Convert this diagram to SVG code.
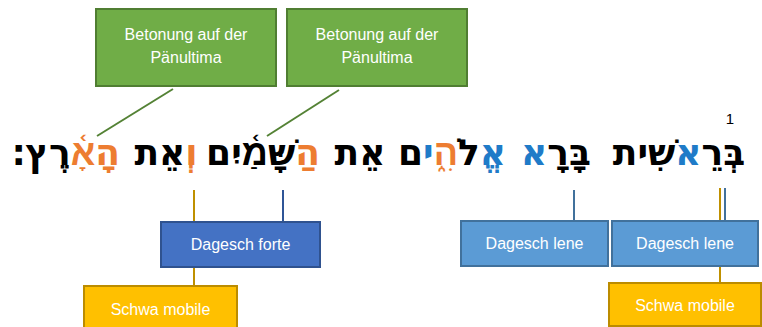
<svg xmlns="http://www.w3.org/2000/svg" width="762" height="327" viewBox="0 0 762 327">
<style>
.lbl{font-family:"Liberation Sans",Arial,sans-serif;font-size:16px;fill:#ffffff;text-anchor:middle}
.heb{font-family:"DejaVu Sans",sans-serif;font-weight:bold;font-size:36px;fill:#000000;text-anchor:middle}
.bl{fill:#1F7BC8}
.or{fill:#ED7D31}
.green{fill:#70AD47;stroke:#507E32;stroke-width:2}
.dblue{fill:#4472C4;stroke:#2F528F;stroke-width:2}
.lblue{fill:#5B9BD5;stroke:#41719C;stroke-width:2}
.gold{fill:#FFC000;stroke:#BC8C00;stroke-width:2}
</style>
<rect width="762" height="327" fill="#ffffff"/>
<g id="connectors" fill="none" stroke-width="2">
<line x1="173" y1="89" x2="97" y2="136" stroke="#548235"/>
<line x1="339" y1="90" x2="267" y2="136" stroke="#548235"/>
<line x1="194" y1="190" x2="194" y2="286" stroke="#BF9000"/>
<line x1="283" y1="190" x2="283" y2="222" stroke="#2F5597"/>
<line x1="574" y1="190" x2="574" y2="221" stroke="#41719C"/>
<line x1="720" y1="188" x2="720" y2="283" stroke="#BF9000"/>
<line x1="725" y1="188" x2="725" y2="221" stroke="#41719C"/>
</g>
<g id="verse">
<text class="heb" x="679" y="165">בְּר<tspan class="bl">ֵא</tspan>שׁ<tspan class="bl">ִ</tspan>ית</text>
<text class="heb" x="556" y="165">בָּר<tspan class="bl">ָא</tspan></text>
<text class="heb" x="452" y="165"><tspan class="bl">א</tspan>ֱלֹ<tspan class="or">ה</tspan><tspan class="bl">ִ</tspan>֑<tspan class="bl">י</tspan>ם</text>
<text class="heb" x="360" y="165">אֵת</text>
<text class="heb" x="263" y="165"><tspan class="or">ה</tspan>ַשָּׁמַ֫יִם</text>
<text class="heb" x="166" y="165"><tspan class="or">ו</tspan>ְאֵת</text>
<text class="heb" x="66" y="165"><tspan class="or">ה</tspan>ָ<tspan class="or">א</tspan>ָ֫רֶץ׃</text>
<text x="730" y="124" style="font-family:'Liberation Sans',Arial,sans-serif;font-size:15px;fill:#000;text-anchor:middle">1</text>
</g>
<g id="betonung1">
<rect class="green" x="96" y="9" width="180" height="77"/>
<text class="lbl" x="186" y="40">Betonung auf der</text>
<text class="lbl" x="186" y="63">Pänultima</text>
</g>
<g id="betonung2">
<rect class="green" x="287" y="9" width="180" height="77"/>
<text class="lbl" x="377" y="40">Betonung auf der</text>
<text class="lbl" x="377" y="63">Pänultima</text>
</g>
<g id="dagesch-forte">
<rect class="dblue" x="161" y="222" width="159" height="45"/>
<text class="lbl" x="240.5" y="250">Dagesch forte</text>
</g>
<g id="dagesch-lene1">
<rect class="lblue" x="461" y="221" width="147" height="45"/>
<text class="lbl" x="534.5" y="249">Dagesch lene</text>
</g>
<g id="dagesch-lene2">
<rect class="lblue" x="612" y="221" width="146" height="45"/>
<text class="lbl" x="685" y="249">Dagesch lene</text>
</g>
<g id="schwa1">
<rect class="gold" x="84" y="286" width="153" height="42"/>
<text class="lbl" x="160.5" y="315">Schwa mobile</text>
</g>
<g id="schwa2">
<rect class="gold" x="609" y="283" width="152" height="43"/>
<text class="lbl" x="685" y="311">Schwa mobile</text>
</g>
</svg>
